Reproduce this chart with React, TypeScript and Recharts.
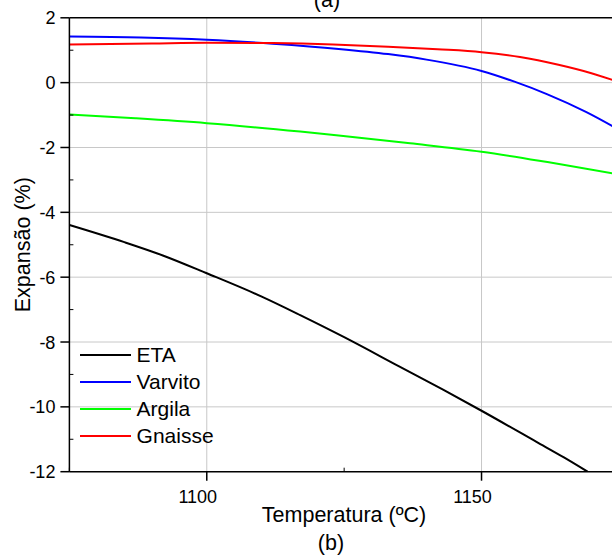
import React from 'react';
import { LineChart, Line, XAxis, YAxis, CartesianGrid, ReferenceLine, Legend } from 'recharts';

const FONT = '"Liberation Sans", Arial, sans-serif';

// temperatures (ºC) and expansion (%)
const etaTemp = [1075, 1085, 1092, 1100, 1110, 1117, 1125, 1135, 1143, 1150, 1160, 1165, 1169.3];
const etaExp = [-4.39, -4.92, -5.33, -5.88, -6.6, -7.17, -7.85, -8.75, -9.47, -10.12, -11.08, -11.56, -12.0];

const varvitoTemp = [1075, 1088, 1100, 1112, 1124, 1133, 1140, 1150, 1156, 1162, 1169, 1175];
const varvitoExp = [1.42, 1.39, 1.32, 1.2, 1.04, 0.88, 0.71, 0.36, 0.03, -0.36, -0.9, -1.45];

const argilaTemp = [1075, 1087, 1100, 1117, 1124, 1137, 1150, 1162, 1175];
const argilaExp = [-0.98, -1.1, -1.25, -1.51, -1.63, -1.87, -2.13, -2.45, -2.83];

const gnaisseTemp = [1075, 1090, 1100, 1112, 1123, 1133, 1142, 1150, 1157, 1164, 1170, 1175];
const gnaisseExp = [1.18, 1.21, 1.23, 1.22, 1.18, 1.11, 1.03, 0.94, 0.79, 0.55, 0.29, 0.02];

const xTicks = [1075, 1100, 1125, 1150, 1175];
const xMajor = [1100, 1150];
const yTicks = [2, 1, 0, -1, -2, -3, -4, -5, -6, -7, -8, -9, -10, -11, -12];

const toPoints = (temp: number[], exp: number[]) => temp.map((t, i) => ({ t, v: exp[i] }));

const series = [
  { name: 'ETA', color: '#000000', data: toPoints(etaTemp, etaExp) },
  { name: 'Varvito', color: '#0000ff', data: toPoints(varvitoTemp, varvitoExp) },
  { name: 'Argila', color: '#00ff00', data: toPoints(argilaTemp, argilaExp) },
  { name: 'Gnaisse', color: '#ff0000', data: toPoints(gnaisseTemp, gnaisseExp) },
];

// tick size/margin are 0 on the axes, so x,y here sit on the axis line itself
const XTick = (props: any) => {
  const { x, y, payload } = props;
  const major = xMajor.includes(payload.value);
  if (!major) {
    return <line x1={x} y1={y} x2={x} y2={y - 4} stroke="#000" strokeWidth={1} />;
  }
  return (
    <g>
      <line x1={x} y1={y} x2={x} y2={y + 9} stroke="#000" strokeWidth={1.5} />
      <text x={x - 9} y={y + 31} textAnchor="middle" fontSize={18} fontFamily={FONT} fill="#000">
        {payload.value}
      </text>
    </g>
  );
};

const YTick = (props: any) => {
  const { x, y, payload } = props;
  const major = payload.value % 2 === 0;
  if (!major) {
    return <line x1={x} y1={y} x2={x + 4} y2={y} stroke="#000" strokeWidth={1} />;
  }
  return (
    <g>
      <line x1={x - 9} y1={y} x2={x} y2={y} stroke="#000" strokeWidth={1.5} />
      <text x={x - 14} y={y + 6.5} textAnchor="end" fontSize={18} fontFamily={FONT} fill="#000">
        {payload.value}
      </text>
    </g>
  );
};

const renderLegend = () => (
  <div style={{ fontFamily: FONT, fontSize: 21, color: '#000' }}>
    {series.map((s) => (
      <div key={s.name} style={{ display: 'flex', alignItems: 'center', height: 26.9 }}>
        <div style={{ width: 51, height: 2, background: s.color, marginRight: 5.6 }} />
        <span style={{ lineHeight: 1 }}>{s.name}</span>
      </div>
    ))}
  </div>
);

export default function App() {
  return (
    <div style={{ position: 'absolute', left: 0, top: 0, width: 612, height: 557, overflow: 'hidden', background: '#fff' }}>
      <LineChart width={640} height={557} margin={{ top: 17.8, right: 21.1, bottom: 0, left: 0 }}>
        <CartesianGrid
          stroke="#c8c8c8"
          strokeWidth={1}
          horizontalValues={[0, -2, -4, -6, -8, -10]}
          verticalValues={xMajor}
        />
        <XAxis
          type="number"
          dataKey="t"
          domain={[1075, 1175]}
          ticks={xTicks}
          interval={0}
          allowDataOverflow
          height={85.3}
          tickSize={0}
          tickMargin={0}
          tickLine={false}
          tick={<XTick />}
          axisLine={{ stroke: '#000', strokeWidth: 1.5 }}
          label={{
            content: () => (
              <g fontFamily={FONT} fill="#000">
                <text x={344} y={521.7} textAnchor="middle" fontSize={21.5}>Temperatura (ºC)</text>
                <text x={331} y={550.4} textAnchor="middle" fontSize={21.5}>(b)</text>
              </g>
            ),
          }}
        />
        <YAxis
          type="number"
          dataKey="v"
          domain={[-12, 2]}
          ticks={yTicks}
          interval={0}
          allowDataOverflow
          width={69.4}
          tickSize={0}
          tickMargin={0}
          tickLine={false}
          tick={<YTick />}
          axisLine={{ stroke: '#000', strokeWidth: 1.5 }}
          label={{
            content: () => (
              <text
                x={30}
                y={244.7}
                transform="rotate(-90 30 244.7)"
                textAnchor="middle"
                fontSize={21.5}
                fontFamily={FONT}
                fill="#000"
              >
                Expansão (%)
              </text>
            ),
          }}
        />
        <ReferenceLine y={2} stroke="#000" strokeWidth={1.5} />
        <ReferenceLine x={1175} stroke="#000" strokeWidth={1.5} />
        {series.map((s) => (
          <Line
            key={s.name}
            data={s.data}
            dataKey="v"
            name={s.name}
            type="monotone"
            stroke={s.color}
            strokeWidth={2}
            dot={false}
            isAnimationActive={false}
          />
        ))}
        <Legend
          layout="horizontal"
          verticalAlign="middle"
          align="center"
          wrapperStyle={{ left: 80, top: 341.5, width: 'auto' }}
          content={renderLegend}
        />
        <text x={327} y={6.5} textAnchor="middle" fontSize={21.5} fontFamily={FONT} fill="#000">
          (a)
        </text>
      </LineChart>
    </div>
  );
}
